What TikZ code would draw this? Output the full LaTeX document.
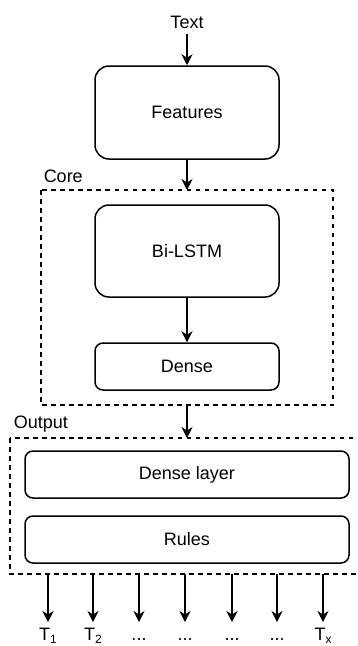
\documentclass[tikz,border=0pt]{standalone}
\usepackage{fontspec}
\setmainfont{Liberation Sans}
\usetikzlibrary{arrows.meta}
\begin{document}
\begin{tikzpicture}[x=1pt,y=-1pt,
  font=\fontsize{18}{20}\selectfont,
  line width=1.5pt,
  blk/.style={draw,rounded corners=#1,inner sep=0pt},
  blk/.default=13pt,
  grp/.style={draw,dash pattern=on 4.5pt off 4.5pt,line width=1.2pt},
  flow/.style={-{Stealth[length=11pt,width=11pt,inset=3.5pt]}},
  lbl/.style={inner sep=0pt,anchor=base}]
\useasboundingbox (0,0) rectangle (358,646);

% group frames
\draw[grp] (41,190) rectangle (333,405);
\node[lbl,anchor=base west] (corelbl) at (43,182) {Core};
\draw[grp] (10,438) rectangle (365,574);
\node[lbl,anchor=base west] (outlbl) at (13,428) {Output};
\coordinate (coretop) at (187,190);
\coordinate (corebot) at (187,405);
\coordinate (outtop) at (187,438);

% input text
\node[lbl] (txt) at (187,28) {Text};

% blocks
\node[blk=14pt,minimum width=184pt,minimum height=93pt] (feat) at (187,112.5) {Features};
\node[blk=14pt,minimum width=184pt,minimum height=92pt] (lstm) at (187,251) {Bi-LSTM};
\node[blk=8pt,minimum width=184pt,minimum height=47pt] (dense) at (187,366.5) {Dense};
\node[blk=8pt,minimum width=324pt,minimum height=47pt] (dlayer) at (187,474.5) {Dense layer};
\node[blk=8pt,minimum width=324pt,minimum height=47pt] (rules) at (187,539.5) {Rules};

% main flow
\draw[flow] (txt.south |- 0,34) -- (feat.north);
\draw[flow] (feat.south) -- (coretop);
\draw[flow] (lstm.south) -- (dense.north);
\draw[flow] (corebot) -- (outtop);

% output tokens
\foreach \i/\x/\t in {1/48/{T\raisebox{-3pt}{\fontsize{12}{12}\selectfont 1}},
                      2/93/{T\raisebox{-3pt}{\fontsize{12}{12}\selectfont 2}},
                      3/139/{...},4/185/{...},5/232/{...},6/277/{...},
                      7/323/{T\raisebox{-3pt}{\fontsize{12}{12}\selectfont x}}}{
  \coordinate (src\i) at (\x,574);
  \coordinate (dst\i) at (\x,622);
  \node[lbl] (tok\i) at (\x,640) {\t};
  \draw[flow] (src\i) -- (dst\i);
}
\end{tikzpicture}
\end{document}
